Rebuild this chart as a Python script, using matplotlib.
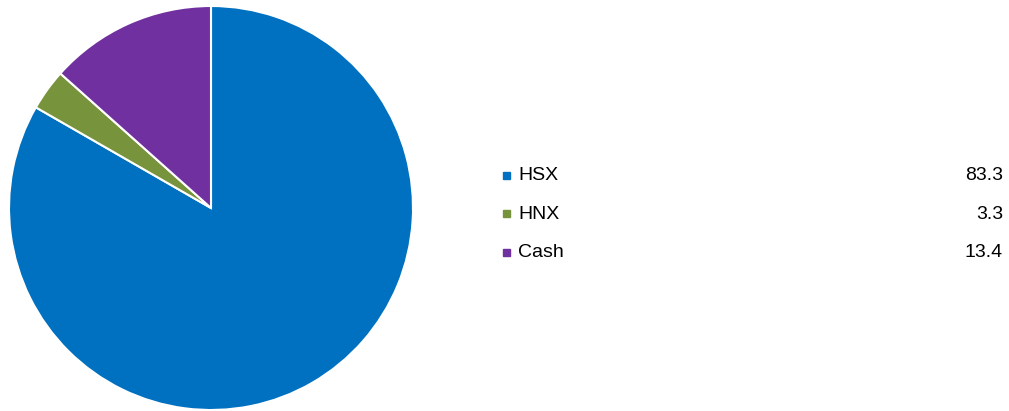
import matplotlib.pyplot as plt

labels = ["HSX", "HNX", "Cash"]
values = [83.3, 3.3, 13.4]
colors = ["#0070C0", "#77933C", "#7030A0"]

W, H = 1009, 411
fig = plt.figure(figsize=(W / 100, H / 100), dpi=100)
plt.rcParams['font.family'] = ['Liberation Sans', 'DejaVu Sans']

# pie axes: centre ~ (211, 208) px, radius ~202 px
r = 202
cx, cy = 211, 208
ax = fig.add_axes([(cx - r) / W, (H - cy - r) / H, 2 * r / W, 2 * r / H])
ax.pie(values, colors=colors, startangle=90, counterclock=False,
       wedgeprops=dict(edgecolor="white", linewidth=1.5))
ax.set_xlim(-1, 1)
ax.set_ylim(-1, 1)
ax.set_aspect("equal")
ax.axis("off")

# legend with values
rows_y = [175, 214, 252]
for lab, val, col, y in zip(labels, values, colors, rows_y):
    fy = 1 - y / H
    fig.patches.append(plt.Rectangle((503 / W, fy - 3.5 / H), 7 / W, 7 / H,
                                     transform=fig.transFigure, color=col))
    fig.text(518 / W, fy, lab, ha="left", va="center", fontsize=14, color="black")
    fig.text(1003 / W, fy, f"{val:.1f}", ha="right", va="center", fontsize=14, color="black")

fig.savefig("out.png", dpi=100)
